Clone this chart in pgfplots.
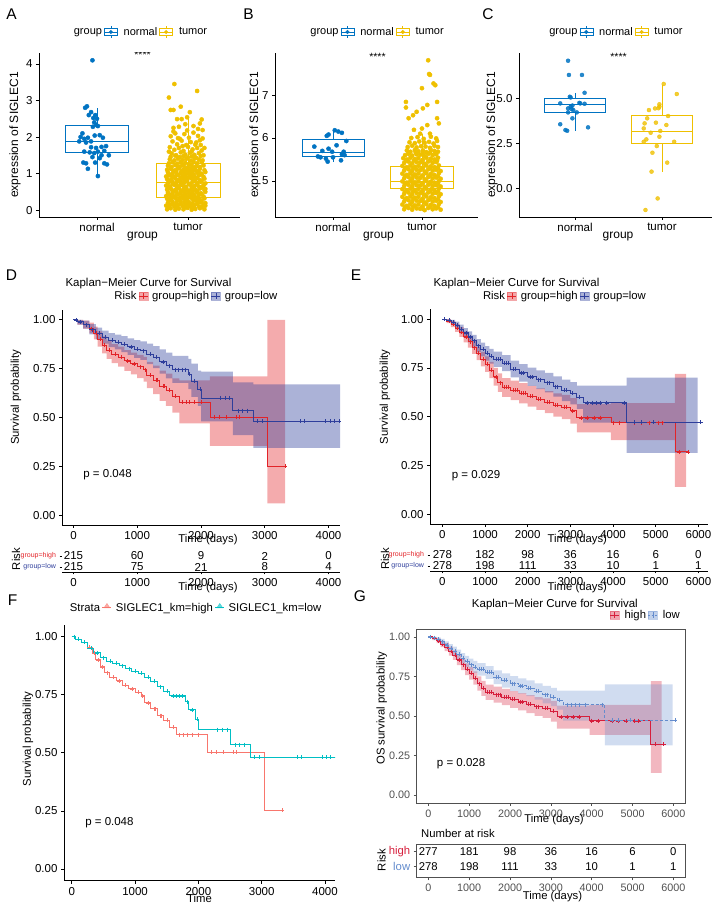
\documentclass[border=0pt]{standalone}
\usepackage{fontspec}
\setmainfont{Liberation Sans}
\usepackage{pgfplots}
\pgfplotsset{compat=1.18}
\usepackage{pgfplotstable}
\usepgfplotslibrary{statistics}
\newcommand\fs[1]{\fontsize{#1}{#1}\selectfont}
\definecolor{jcoblue}{HTML}{0073C2}
\definecolor{jcoyellow}{HTML}{EFC000}
\definecolor{kmred}{RGB}{226,35,40}
\definecolor{kmblue}{RGB}{46,62,155}
\definecolor{fred}{HTML}{F8766D}
\definecolor{fteal}{HTML}{00BFC4}
\definecolor{gred}{RGB}{214,30,60}
\definecolor{gblue}{RGB}{100,140,205}
\definecolor{ggray}{RGB}{80,80,80}
\pgfplotsset{/pgf/number format/assume math mode=true,
 boxglyph/.style={legend image code/.code={%
   \draw[#1, line width=0.6pt, fill=white] (0pt,-3.8pt) rectangle (13pt,3.8pt);
   \draw[#1, line width=0.6pt] (6.5pt,-6pt)--(6.5pt,-3.8pt) (6.5pt,3.8pt)--(6.5pt,6pt);
   \draw[#1, line width=0.7pt] (0pt,0pt)--(13pt,0pt);
   \fill[#1] (6.5pt,0pt) circle (1.8pt);}},
 kmglyph/.style 2 args={legend image code/.code={%
   \fill[#1, opacity=0.4] (0pt,-4pt) rectangle (9pt,4pt);
   \draw[#2, line width=0.8pt] (0pt,0pt)--(9pt,0pt);
   \draw[#2, line width=0.6pt, solid] (4.5pt,-2.6pt)--(4.5pt,2.6pt);}},
 stglyph/.style={legend image code/.code={%
   \draw[#1, line width=0.8pt] (0pt,0pt)--(9pt,0pt);
   \fill[#1, opacity=0.6] (1.5pt,0pt)--(7.5pt,0pt)--(4.5pt,4.5pt)--cycle;}},
 boxax/.style={anchor=south west, scale only axis, axis x line*=bottom, axis y line*=left,
   axis line style={-, black, line width=0.6pt}, tick align=outside, major tick length=3pt,
   tick style={black, line width=0.6pt}, xtick={1,2}, xticklabels={normal,tumor},
   boxplot/draw direction=y,
   xticklabel style={font=\fs{11.5}}, yticklabel style={font=\fs{11.5}},
   ylabel={expression of SIGLEC1}, xlabel={group},
   ylabel style={font=\fs{12}, anchor=center}, xlabel style={font=\fs{12}, anchor=center},
   legend style={anchor=center, draw=none, fill=none, legend columns=-1, font=\fs{11},
     /tikz/every odd column/.append style={column sep=4pt}}, legend cell align=left},
 kmax/.style={anchor=south west, scale only axis, axis x line*=bottom, axis y line*=left,
   axis line style={-, black, line width=0.6pt}, tick align=outside, major tick length=3pt,
   tick style={black, line width=0.6pt}, ymin=-0.05, ymax=1.05, ytick={0,0.25,0.5,0.75,1},
   yticklabel style={font=\fs{11.5}, /pgf/number format/.cd, fixed, fixed zerofill, precision=2},
   xticklabel style={font=\fs{11.5}, /pgf/number format/.cd, fixed, 1000 sep={}},
   scaled x ticks=false, label style={font=\fs{11.3}},
   xlabel style={anchor=center}, ylabel style={anchor=center},
   legend style={anchor=center, draw=none, fill=none, legend columns=-1, font=\fs{11.3},
     /tikz/every odd column/.append style={column sep=2pt}}, legend cell align=left},
 riskax/.style={anchor=south west, scale only axis, axis x line*=bottom, axis y line*=left,
   axis line style={-, black, line width=0.6pt}, y axis line style={draw=none},
   tick align=outside, major tick length=2.5pt, tick style={black, line width=0.6pt},
   ymin=0, ymax=1, ytick={0.227,0.727},
   yticklabels={\textcolor{kmblue}{group=low},\textcolor{kmred}{group=high}},
   yticklabel style={font=\fs{7}},
   xticklabel style={font=\fs{11.5}, /pgf/number format/.cd, fixed, 1000 sep={}},
   scaled x ticks=false, xlabel={Time (days)}, ylabel={Risk}, label style={font=\fs{11.3}},
   xlabel style={anchor=center}, ylabel style={anchor=center}, clip=false},
}
% ---------- survival curves (time, survival) ----------
\pgfplotstableread{
t s
0 1.000
60 0.990
150 0.975
250 0.955
320 0.930
380 0.900
450 0.870
520 0.845
600 0.825
700 0.810
800 0.790
900 0.775
1000 0.760
1100 0.745
1150 0.715
1250 0.690
1350 0.660
1450 0.640
1550 0.610
1660 0.578
2140 0.503
3040 0.252
3320 0.252
}\Dhigh
\pgfplotstableread{
t s
0 1.000
60 0.990
150 0.975
250 0.950
350 0.930
450 0.910
550 0.895
650 0.885
750 0.875
850 0.862
950 0.850
1050 0.842
1150 0.825
1250 0.808
1350 0.785
1450 0.765
1550 0.745
1800 0.720
1850 0.685
1950 0.645
2000 0.600
2500 0.535
2820 0.480
4250 0.480
}\Dlow
% confidence bands: upper limit forward, lower limit backward
\pgfplotstableread{
t v
0 1.000
60 1.000
150 0.995
250 0.985
320 0.965
380 0.940
450 0.915
520 0.893
600 0.875
700 0.862
800 0.845
900 0.832
1000 0.820
1100 0.810
1150 0.785
1250 0.765
1350 0.740
1450 0.725
1550 0.700
1660 0.690
2140 0.710
3040 1.000
3320 1.000
3320 0.060
3040 0.355
2140 0.470
1660 0.525
1550 0.560
1450 0.585
1350 0.620
1250 0.650
1150 0.683
1100 0.702
1000 0.720
900 0.738
800 0.760
700 0.778
600 0.800
520 0.828
450 0.862
380 0.900
320 0.930
250 0.955
150 0.975
60 1.000
}\DhighBand
\pgfplotstableread{
t v
0 1.000
60 1.000
150 0.995
250 0.978
350 0.960
450 0.945
550 0.932
650 0.924
750 0.916
850 0.905
950 0.896
1050 0.890
1150 0.878
1250 0.865
1350 0.848
1450 0.832
1550 0.815
1800 0.800
1850 0.775
1950 0.740
2000 0.735
2500 0.680
2820 0.670
4180 0.670
4180 0.345
2820 0.410
2500 0.480
2000 0.560
1950 0.605
1850 0.645
1800 0.677
1550 0.700
1450 0.725
1350 0.752
1250 0.773
1150 0.795
1050 0.805
950 0.820
850 0.835
750 0.848
650 0.860
550 0.878
450 0.900
350 0.925
250 0.955
150 0.975
60 1.000
}\DlowBand
\pgfplotstableread{
t s
200 0.975
280 0.955
350 0.930
420 0.900
480 0.870
560 0.845
650 0.825
750 0.810
850 0.790
950 0.775
1050 0.760
1120 0.745
1200 0.715
1300 0.690
1320 0.690
1400 0.660
1420 0.660
1500 0.640
1600 0.610
1700 0.578
1760 0.578
1820 0.578
1900 0.578
2000 0.578
2200 0.503
2280 0.503
2400 0.503
2550 0.503
2600 0.503
3320 0.252
}\Dhc
\pgfplotstableread{
t s
40 1.000
100 0.990
200 0.975
300 0.950
400 0.930
500 0.910
600 0.895
700 0.885
800 0.875
900 0.862
1000 0.850
1100 0.842
1200 0.825
1300 0.808
1400 0.785
1500 0.765
1600 0.745
1650 0.745
1700 0.745
1750 0.745
1820 0.720
1900 0.685
1980 0.645
2300 0.600
2380 0.600
2450 0.600
2580 0.535
2650 0.535
2720 0.535
2880 0.480
2960 0.480
3560 0.480
3620 0.480
3950 0.480
4020 0.480
4090 0.480
4160 0.480
}\Dlc
\pgfplotstableread{
t s
0 1.000
100 0.990
200 0.975
300 0.955
400 0.935
500 0.910
600 0.885
700 0.855
800 0.825
900 0.795
1000 0.770
1100 0.740
1200 0.705
1300 0.675
1400 0.650
1600 0.635
1800 0.620
2000 0.605
2200 0.590
2400 0.575
2600 0.560
2800 0.550
3000 0.530
3150 0.495
3950 0.470
5450 0.320
5760 0.320
}\Ehigh
\pgfplotstableread{
t s
0 1.000
100 0.995
200 0.985
300 0.970
400 0.950
500 0.930
600 0.910
700 0.890
800 0.865
900 0.845
1000 0.825
1100 0.810
1200 0.795
1400 0.775
1600 0.745
1800 0.725
2000 0.705
2200 0.690
2400 0.675
2600 0.655
2800 0.635
3000 0.620
3150 0.600
3300 0.572
4320 0.472
6050 0.472
}\Elow
\pgfplotstableread{
t v
0 1.000
100 1.000
200 0.990
300 0.975
400 0.960
500 0.938
600 0.915
700 0.888
800 0.860
900 0.833
1000 0.810
1100 0.782
1200 0.750
1300 0.722
1400 0.698
1600 0.685
1800 0.672
2000 0.658
2200 0.645
2400 0.632
2600 0.620
2800 0.612
3000 0.595
3150 0.565
3950 0.570
5450 0.720
5710 0.720
5710 0.140
5450 0.380
3950 0.420
3150 0.465
3000 0.488
2800 0.500
2600 0.518
2400 0.535
2200 0.552
2000 0.568
1800 0.585
1600 0.602
1400 0.628
1300 0.660
1200 0.698
1100 0.730
1000 0.758
900 0.790
800 0.822
700 0.855
600 0.882
500 0.910
400 0.935
300 0.960
200 0.980
100 1.000
}\EhighBand
\pgfplotstableread{
t v
0 1.000
100 1.000
200 0.997
300 0.988
400 0.972
500 0.955
600 0.938
700 0.920
800 0.898
900 0.880
1000 0.862
1100 0.848
1200 0.834
1400 0.816
1600 0.788
1800 0.770
2000 0.752
2200 0.738
2400 0.725
2600 0.707
2800 0.690
3000 0.677
3150 0.660
3300 0.660
4320 0.700
5980 0.700
5980 0.315
4320 0.470
3300 0.540
3150 0.563
3000 0.580
2800 0.603
2600 0.625
2400 0.642
2200 0.658
2000 0.680
1800 0.702
1600 0.734
1400 0.756
1200 0.772
1100 0.788
1000 0.810
900 0.832
800 0.860
700 0.882
600 0.905
500 0.928
400 0.952
300 0.972
200 0.987
100 1.000
}\ElowBand
\pgfplotstableread{
t s
150 0.990
250 0.975
350 0.955
450 0.935
550 0.910
650 0.885
750 0.855
850 0.825
950 0.795
1050 0.770
1150 0.740
1250 0.705
1350 0.675
1450 0.650
1500 0.650
1550 0.650
1650 0.635
1700 0.635
1750 0.635
1850 0.620
1900 0.620
1950 0.620
2050 0.605
2100 0.605
2250 0.590
2300 0.590
2450 0.575
2500 0.575
2650 0.560
2700 0.560
2850 0.550
2900 0.550
3050 0.530
3250 0.495
3400 0.495
3550 0.495
3700 0.495
4000 0.470
4150 0.470
4500 0.470
4650 0.470
4850 0.470
5050 0.470
5150 0.470
5550 0.320
5760 0.320
}\Ehc
\pgfplotstableread{
t s
50 1.000
150 0.995
250 0.985
350 0.970
450 0.950
550 0.930
650 0.910
750 0.890
850 0.865
950 0.845
1050 0.825
1150 0.810
1250 0.795
1300 0.795
1350 0.795
1450 0.775
1500 0.775
1550 0.775
1650 0.745
1700 0.745
1850 0.725
1900 0.725
2050 0.705
2100 0.705
2250 0.690
2300 0.690
2450 0.675
2500 0.675
2650 0.655
2700 0.655
2850 0.635
2900 0.635
3050 0.620
3200 0.600
3400 0.572
3500 0.572
3600 0.572
3700 0.572
3850 0.572
4250 0.572
4500 0.472
4650 0.472
4950 0.472
6050 0.472
}\Elc
\begin{document}
\begin{tikzpicture}
\useasboundingbox (0,0) rectangle (719pt,910pt);
\node[font=\fs{15.5}] at (11.5pt,896pt) {A};
\node[font=\fs{15.5}] at (248.5pt,896pt) {B};
\node[font=\fs{15.5}] at (488pt,896pt) {C};
\node[font=\fs{15.5}] at (11.5pt,634.5pt) {D};
\node[font=\fs{15.5}] at (356pt,634.5pt) {E};
\node[font=\fs{15.5}] at (12.5pt,309.5pt) {F};
\node[font=\fs{15.5}] at (360pt,314pt) {G};

% ================= A =================
\begin{axis}[boxax, at={(39pt,693pt)}, width=201pt, height=164pt,
  xmin=0.363, xmax=2.571, ymin=-0.19, ymax=4.30, ytick={0,1,2,3,4},
  ylabel style={at={(axis description cs:-0.1194,0.5)}},
  xlabel style={at={(axis description cs:0.515,-0.122)}},
  legend style={at={(axis description cs:0.495,1.128)}}]
\addlegendimage{empty legend}\addlegendentry{group}
\addlegendimage{boxglyph=jcoblue}\addlegendentry{normal}
\addlegendimage{boxglyph=jcoyellow}\addlegendentry{tumor}
\addplot[jcoblue, line width=0.7pt, fill=white, forget plot, boxplot prepared={lower whisker=0.93, lower quartile=1.57, median=1.88, upper quartile=2.33, upper whisker=2.80, draw position=1, box extend=0.7, whisker extend=0}] coordinates {};
\addplot[jcoyellow, line width=0.7pt, fill=white, forget plot, boxplot prepared={lower whisker=0.0, lower quartile=0.36, median=0.75, upper quartile=1.27, upper whisker=2.52, draw position=2, box extend=0.7, whisker extend=0}] coordinates {};
\addplot[only marks, mark=*, mark size=2.1pt, jcoblue, forget plot] coordinates {
(0.95,4.10)(0.87,2.80)(0.89,2.84)(0.935,2.68)(0.98,2.60)(0.91,2.60)(0.96,2.52)(1.00,2.50)(0.97,2.40)(0.99,2.33)(1.01,2.30)(0.955,2.28)(0.84,2.10)(0.82,2.00)(0.86,1.95)(0.90,1.98)(0.935,1.88)(1.03,2.05)(0.975,2.04)(1.065,1.98)(0.805,1.88)(0.88,1.85)(1.10,1.75)(1.05,1.73)(0.99,1.70)(0.86,1.60)(0.92,1.58)(0.97,1.56)(1.01,1.60)(1.08,1.62)(1.13,1.50)(0.95,1.45)(1.03,1.42)(0.85,1.30)(0.88,1.28)(0.98,1.30)(1.08,1.28)(1.11,1.25)(0.90,1.13)(1.01,0.93)(1.05,1.50)(0.935,1.72)};
\addplot[only marks, mark=*, mark size=2.1pt, jcoyellow, forget plot] coordinates {
(1.85,3.45)(2.10,3.26)(1.79,3.08)(1.81,2.74)(1.84,2.74)(1.92,2.83)(2.02,2.68)(1.88,2.49)(1.93,2.49)(1.99,2.54)(2.15,2.48)(2.13,2.37)(1.84,2.25)(2.06,2.30)(2.16,2.19)(2.11,2.22)(1.97,2.35)(1.90,2.28)
(1.81,2.02)(1.86,2.10)(1.91,1.95)(1.96,2.08)(2.01,1.98)(2.06,2.12)(2.11,2.03)(2.16,1.96)(1.83,1.88)(1.88,1.80)(1.93,1.90)(1.98,1.78)(2.03,1.86)(2.08,1.79)(2.13,1.91)(1.80,1.72)(1.85,1.65)(1.90,1.70)(1.95,1.62)(2.00,1.73)(2.05,1.66)(2.10,1.70)(2.15,1.63)(1.82,1.55)(1.87,1.50)(1.92,1.58)(1.97,1.52)(2.02,1.57)(2.07,1.51)(2.12,1.56)(2.17,1.50)(1.84,2.15)(1.99,2.18)(2.09,1.85)(1.94,1.75)(2.04,1.60)(1.89,1.97)(2.14,1.78)(1.79,1.60)(2.18,1.70)
(1.77,0.02)(1.81,0.05)(1.86,0.01)(1.90,0.04)(1.95,0.02)(1.99,0.06)(2.04,0.01)(2.08,0.03)(2.13,0.05)(2.18,0.02)
(1.76,0.12)(1.80,0.15)(1.85,0.10)(1.89,0.14)(1.94,0.11)(1.98,0.16)(2.03,0.09)(2.07,0.13)(2.12,0.10)(2.17,0.15)
(1.78,0.20)(1.83,0.23)(1.87,0.19)(1.92,0.24)(1.96,0.20)(2.01,0.22)(2.05,0.18)(2.10,0.24)(2.14,0.21)(2.19,0.19)
(1.77,0.31)(1.81,0.28)(1.86,0.33)(1.90,0.29)(1.95,0.32)(1.99,0.27)(2.04,0.33)(2.08,0.30)(2.13,0.28)(2.18,0.32)
(1.76,0.38)(1.80,0.41)(1.85,0.37)(1.89,0.42)(1.94,0.39)(1.98,0.36)(2.03,0.42)(2.07,0.38)(2.12,0.41)(2.17,0.37)
(1.78,0.49)(1.83,0.46)(1.87,0.51)(1.92,0.47)(1.96,0.50)(2.01,0.45)(2.05,0.51)(2.10,0.48)(2.14,0.46)(2.19,0.50)
(1.77,0.56)(1.81,0.59)(1.86,0.55)(1.90,0.60)(1.95,0.57)(1.99,0.54)(2.04,0.60)(2.08,0.56)(2.13,0.59)(2.18,0.55)
(1.76,0.67)(1.80,0.64)(1.85,0.69)(1.89,0.65)(1.94,0.68)(1.98,0.63)(2.03,0.69)(2.07,0.66)(2.12,0.64)(2.17,0.68)
(1.78,0.74)(1.83,0.77)(1.87,0.73)(1.92,0.78)(1.96,0.75)(2.01,0.72)(2.05,0.78)(2.10,0.74)(2.14,0.77)(2.19,0.73)
(1.77,0.85)(1.81,0.82)(1.86,0.87)(1.90,0.83)(1.95,0.86)(1.99,0.81)(2.04,0.87)(2.08,0.84)(2.13,0.82)(2.18,0.86)
(1.76,0.92)(1.80,0.95)(1.85,0.91)(1.89,0.96)(1.94,0.93)(1.98,0.90)(2.03,0.96)(2.07,0.92)(2.12,0.95)(2.17,0.91)
(1.78,1.03)(1.83,1.00)(1.87,1.05)(1.92,1.01)(1.96,1.04)(2.01,0.99)(2.05,1.05)(2.10,1.02)(2.14,1.00)(2.19,1.04)
(1.77,1.10)(1.81,1.13)(1.86,1.09)(1.90,1.14)(1.95,1.11)(1.99,1.08)(2.04,1.14)(2.08,1.10)(2.13,1.13)(2.18,1.09)
(1.78,1.21)(1.82,1.18)(1.86,1.23)(1.91,1.19)(1.95,1.22)(2.00,1.17)(2.04,1.23)(2.09,1.20)(2.13,1.18)(2.17,1.22)
(1.79,1.28)(1.83,1.31)(1.88,1.27)(1.92,1.32)(1.97,1.29)(2.01,1.26)(2.06,1.32)(2.10,1.28)(2.15,1.31)
(1.80,1.39)(1.85,1.36)(1.89,1.41)(1.94,1.37)(1.98,1.40)(2.03,1.35)(2.07,1.41)(2.12,1.38)(2.16,1.36)
(1.81,1.46)(1.86,1.49)(1.91,1.45)(1.95,1.48)(2.00,1.44)(2.04,1.47)(2.09,1.43)(2.14,1.48)
(1.79,0.07)(1.88,0.08)(1.97,0.09)(2.06,0.07)(2.15,0.08)(1.83,0.16)(1.92,0.17)(2.01,0.16)(2.10,0.17)(2.19,0.12)
(1.79,0.26)(1.88,0.25)(1.97,0.26)(2.06,0.26)(2.15,0.25)(1.83,0.35)(1.92,0.34)(2.01,0.35)(2.10,0.34)(1.78,0.44)
(1.88,0.43)(1.97,0.44)(2.06,0.43)(2.15,0.44)(1.83,0.53)(1.92,0.52)(2.01,0.53)(2.10,0.52)(2.19,0.58)(1.79,0.62)
(1.88,0.61)(1.97,0.62)(2.06,0.61)(2.15,0.62)(1.83,0.71)(1.92,0.70)(2.01,0.71)(2.10,0.70)(1.79,0.80)(1.88,0.79)
(1.97,0.80)(2.06,0.79)(2.15,0.80)(1.83,0.89)(1.92,0.88)(2.01,0.89)(2.10,0.88)(1.79,0.98)(1.88,0.97)(1.97,0.98)
(2.06,0.97)(2.15,0.98)(1.84,1.07)(1.93,1.06)(2.02,1.07)(2.11,1.06)(1.89,1.16)(1.98,1.15)(2.07,1.16)(1.94,1.25)};
\node[font=\fs{10.5}] at (axis cs:1.5,4.24) {****};
\end{axis}

% ================= B =================
\begin{axis}[boxax, at={(275pt,693pt)}, width=203pt, height=164pt,
  xmin=0.348, xmax=2.63, ymin=4.16, ymax=7.98, ytick={5,6,7},
  ylabel style={at={(axis description cs:-0.0985,0.5)}},
  xlabel style={at={(axis description cs:0.51,-0.122)}},
  legend style={at={(axis description cs:0.493,1.128)}}]
\addlegendimage{empty legend}\addlegendentry{group}
\addlegendimage{boxglyph=jcoblue}\addlegendentry{normal}
\addlegendimage{boxglyph=jcoyellow}\addlegendentry{tumor}
\addplot[jcoblue, line width=0.7pt, fill=white, forget plot, boxplot prepared={lower whisker=5.45, lower quartile=5.57, median=5.66, upper quartile=5.97, upper whisker=6.18, draw position=1, box extend=0.7, whisker extend=0}] coordinates {};
\addplot[jcoyellow, line width=0.7pt, fill=white, forget plot, boxplot prepared={lower whisker=4.30, lower quartile=4.82, median=5.00, upper quartile=5.34, upper whisker=6.10, draw position=2, box extend=0.7, whisker extend=0}] coordinates {};
\addplot[only marks, mark=*, mark size=2.1pt, jcoblue, forget plot] coordinates {
(1.02,6.18)(1.06,6.15)(1.10,6.12)(0.93,6.05)(0.95,6.08)(1.15,5.93)(1.04,5.83)(0.79,5.80)(0.95,5.75)(0.88,5.70)(0.99,5.68)(1.10,5.62)(0.83,5.57)(0.86,5.55)(1.13,5.60)(1.09,5.48)(0.94,5.45)(0.92,5.52)(1.00,5.55)(1.12,5.68)};
\addplot[only marks, mark=*, mark size=2.1pt, jcoyellow, forget plot] coordinates {
(2.07,7.81)(2.08,7.49)(2.09,7.47)(2.13,7.27)(2.15,7.23)(2.00,7.16)(1.82,6.84)(1.82,6.71)(2.17,6.84)(2.06,6.77)(2.01,6.69)(1.94,6.61)(1.90,6.53)(1.85,6.46)(2.17,6.46)(2.19,6.34)(1.91,6.19)(2.00,6.22)(2.06,6.30)(2.09,6.10)(1.98,6.10)
(1.80,4.34)(1.85,4.37)(1.89,4.33)(1.94,4.36)(1.98,4.35)(2.03,4.32)(2.07,4.37)(2.12,4.34)(2.16,4.36)(2.21,4.33)
(1.78,4.45)(1.83,4.42)(1.87,4.46)(1.92,4.43)(1.96,4.45)(2.01,4.41)(2.05,4.46)(2.10,4.44)(2.14,4.42)(2.19,4.46)
(1.80,4.52)(1.85,4.55)(1.89,4.51)(1.94,4.54)(1.98,4.53)(2.03,4.50)(2.07,4.55)(2.12,4.52)(2.16,4.54)(2.21,4.51)
(1.78,4.63)(1.83,4.60)(1.87,4.64)(1.92,4.61)(1.96,4.63)(2.01,4.59)(2.05,4.64)(2.10,4.62)(2.14,4.60)(2.19,4.64)
(1.80,4.70)(1.85,4.73)(1.89,4.69)(1.94,4.72)(1.98,4.71)(2.03,4.68)(2.07,4.73)(2.12,4.70)(2.16,4.72)(2.21,4.69)
(1.78,4.81)(1.83,4.78)(1.87,4.82)(1.92,4.79)(1.96,4.81)(2.01,4.77)(2.05,4.82)(2.10,4.80)(2.14,4.78)(2.19,4.82)
(1.80,4.88)(1.85,4.91)(1.89,4.87)(1.94,4.90)(1.98,4.89)(2.03,4.86)(2.07,4.91)(2.12,4.88)(2.16,4.90)(2.21,4.87)
(1.78,4.99)(1.83,4.96)(1.87,5.00)(1.92,4.97)(1.96,4.99)(2.01,4.95)(2.05,5.00)(2.10,4.98)(2.14,4.96)(2.19,5.00)
(1.80,5.06)(1.85,5.09)(1.89,5.05)(1.94,5.08)(1.98,5.07)(2.03,5.04)(2.07,5.09)(2.12,5.06)(2.16,5.08)(2.21,5.05)
(1.78,5.17)(1.83,5.14)(1.87,5.18)(1.92,5.15)(1.96,5.17)(2.01,5.13)(2.05,5.18)(2.10,5.16)(2.14,5.14)(2.19,5.18)
(1.80,5.24)(1.85,5.27)(1.89,5.23)(1.94,5.26)(1.98,5.25)(2.03,5.22)(2.07,5.27)(2.12,5.24)(2.16,5.26)(2.21,5.23)
(1.78,5.35)(1.83,5.32)(1.87,5.36)(1.92,5.33)(1.96,5.35)(2.01,5.31)(2.05,5.36)(2.10,5.34)(2.14,5.32)(2.19,5.36)
(1.80,5.42)(1.85,5.45)(1.89,5.41)(1.94,5.44)(1.98,5.43)(2.03,5.40)(2.07,5.45)(2.12,5.42)(2.16,5.44)
(1.79,5.53)(1.83,5.50)(1.87,5.54)(1.92,5.51)(1.96,5.53)(2.01,5.49)(2.05,5.54)(2.10,5.52)(2.14,5.50)(2.18,5.54)
(1.81,5.60)(1.85,5.63)(1.89,5.59)(1.94,5.62)(1.98,5.61)(2.03,5.58)(2.07,5.63)(2.12,5.60)(2.16,5.62)
(1.83,5.71)(1.87,5.68)(1.92,5.72)(1.96,5.69)(2.01,5.71)(2.05,5.67)(2.10,5.72)(2.14,5.70)(2.18,5.68)
(1.84,5.79)(1.89,5.82)(1.94,5.78)(1.99,5.81)(2.04,5.80)(2.09,5.77)(2.14,5.82)(2.18,5.79)
(1.86,5.90)(1.92,5.88)(1.97,5.92)(2.03,5.89)(2.08,5.91)(2.13,5.87)(2.17,5.93)
(1.88,6.00)(1.95,6.02)(2.02,5.98)(2.10,6.03)(2.16,5.99)
(1.81,4.39)(1.90,4.40)(2.00,4.39)(2.09,4.40)(2.18,4.39)(1.81,4.57)(1.90,4.58)(2.00,4.57)(2.09,4.58)(2.18,4.57)(1.81,4.75)(1.90,4.76)(2.00,4.75)(2.09,4.76)(2.18,4.75)(1.81,4.93)(1.90,4.94)(2.00,4.93)(2.09,4.94)(2.18,4.93)(1.81,5.11)(1.90,5.12)(2.00,5.11)(2.09,5.12)(2.18,5.11)(1.81,5.29)(1.90,5.30)(2.00,5.29)(2.09,5.30)(2.18,5.29)(1.82,5.47)(1.91,5.48)(2.00,5.47)(2.09,5.48)(2.17,5.47)(1.85,5.65)(1.93,5.66)(2.01,5.65)(2.09,5.66)(2.15,5.65)};
\node[font=\fs{10.5}] at (axis cs:1.5,7.90) {****};
\end{axis}

% ================= C =================
\begin{axis}[boxax, at={(519pt,693pt)}, width=193pt, height=164pt,
  xmin=0.356, xmax=2.575, ymin=-1.59, ymax=7.52, ytick={0,2.5,5},
  yticklabel style={/pgf/number format/.cd, fixed, fixed zerofill, precision=1},
  ylabel style={at={(axis description cs:-0.140,0.5)}},
  xlabel style={at={(axis description cs:0.513,-0.122)}},
  legend style={at={(axis description cs:0.492,1.128)}}]
\addlegendimage{empty legend}\addlegendentry{group}
\addlegendimage{boxglyph=jcoblue}\addlegendentry{normal}
\addlegendimage{boxglyph=jcoyellow}\addlegendentry{tumor}
\addplot[jcoblue, line width=0.7pt, fill=white, forget plot, boxplot prepared={lower whisker=3.18, lower quartile=4.20, median=4.65, upper quartile=5.00, upper whisker=5.31, draw position=1, box extend=0.7, whisker extend=0}] coordinates {};
\addplot[jcoyellow, line width=0.7pt, fill=white, forget plot, boxplot prepared={lower whisker=0.93, lower quartile=2.50, median=3.15, upper quartile=4.05, upper whisker=5.75, draw position=2, box extend=0.7, whisker extend=0}] coordinates {};
\addplot[only marks, mark=*, mark size=2pt, jcoblue, opacity=0.85, forget plot] coordinates {
(0.92,7.09)(0.93,6.30)(1.08,6.30)(1.11,5.31)(0.94,5.09)(0.95,5.05)(0.83,4.72)(1.06,4.72)(1.11,4.70)(0.95,4.54)(0.92,4.44)(0.98,4.35)(0.92,4.22)(1.02,4.22)(0.97,3.89)(0.83,3.56)(1.15,3.39)(0.89,3.24)(0.91,3.20)(0.97,4.60)(1.05,4.75)(0.96,4.40)};
\addplot[only marks, mark=*, mark size=2pt, jcoyellow, opacity=0.8, forget plot] coordinates {
(2.02,5.80)(2.17,5.24)(1.97,4.67)(1.97,4.54)(1.92,4.44)(1.85,4.35)(2.07,4.02)(1.83,3.89)(1.80,3.61)(1.93,3.65)(2.05,3.52)(1.79,3.33)(1.87,3.09)(1.98,3.19)(1.97,2.87)(1.82,2.72)(1.79,2.59)(2.14,2.59)(1.94,2.35)(1.89,1.98)(2.06,1.43)(1.88,0.93)(1.95,-0.56)(1.81,-1.20)(1.96,4.45)};
\node[font=\fs{10.5}] at (axis cs:1.5,7.32) {****};
\end{axis}

% ================= D =================
\begin{axis}[kmax, at={(62pt,385pt)}, width=278pt, height=215pt,
  xmin=-180, xmax=4180, xtick={0,1000,2000,3000,4000},
  ylabel={Survival probability}, xlabel={Time (days)},
  ylabel style={at={(axis description cs:-0.1655,0.593)}},
  xlabel style={at={(axis description cs:0.525,-0.0698)}},
  title={Kaplan\textminus Meier Curve for Survival},
  title style={at={(axis description cs:0,1.093)}, anchor=west, font=\fs{11.5}},
  legend style={at={(axis description cs:0.478,1.065)}}]
\addlegendimage{empty legend}\addlegendentry{Risk}
\addlegendimage{kmglyph={kmred}{kmred}}\addlegendentry{group=high}
\addlegendimage{kmglyph={kmblue}{kmblue}}\addlegendentry{group=low}
\addplot[draw=none, fill=kmred, fill opacity=0.38, const plot, forget plot] table[x=t,y=v]{\DhighBand};
\addplot[draw=none, fill=kmblue, fill opacity=0.4, const plot, forget plot] table[x=t,y=v]{\DlowBand};
\addplot[kmred, line width=0.8pt, const plot, forget plot] table[x=t,y=s]{\Dhigh};
\addplot[kmblue, line width=0.8pt, const plot, forget plot] table[x=t,y=s]{\Dlow};
\addplot[kmred, only marks, mark=+, mark size=2pt, forget plot] table[x=t,y=s]{\Dhc};
\addplot[kmblue, only marks, mark=+, mark size=2pt, forget plot] table[x=t,y=s]{\Dlc};
\node[anchor=west, font=\fs{11.5}] at (axis cs:100,0.205) {p = 0.048};
\end{axis}
\begin{axis}[riskax, at={(62pt,338pt)}, width=278pt, height=22pt,
  xmin=-180, xmax=4180, xtick={0,1000,2000,3000,4000},
  ylabel style={at={(axis description cs:-0.1655,0.59)}},
  xlabel style={at={(axis description cs:0.525,-0.727)}}]
\addplot[draw=none, forget plot] coordinates {(0,0.5)};
\node[font=\fs{11.5}] at (axis cs:0,0.727) {215};
\node[font=\fs{11.5}] at (axis cs:1000,0.727) {60};
\node[font=\fs{11.5}] at (axis cs:2000,0.727) {9};
\node[font=\fs{11.5}] at (axis cs:3000,0.727) {2};
\node[font=\fs{11.5}] at (axis cs:4000,0.727) {0};
\node[font=\fs{11.5}] at (axis cs:0,0.227) {215};
\node[font=\fs{11.5}] at (axis cs:1000,0.227) {75};
\node[font=\fs{11.5}] at (axis cs:2000,0.227) {21};
\node[font=\fs{11.5}] at (axis cs:3000,0.227) {8};
\node[font=\fs{11.5}] at (axis cs:4000,0.227) {4};
\end{axis}

% ================= E =================
\begin{axis}[kmax, at={(430pt,386pt)}, width=278pt, height=214.5pt,
  xmin=-290, xmax=6225, xtick={0,1000,2000,3000,4000,5000,6000},
  ylabel={Survival probability}, xlabel={Time (days)},
  ylabel style={at={(axis description cs:-0.162,0.593)}},
  xlabel style={at={(axis description cs:0.53,-0.0746)}},
  title={Kaplan\textminus Meier Curve for Survival},
  title style={at={(axis description cs:0,1.091)}, anchor=west, font=\fs{11.5}},
  legend style={at={(axis description cs:0.48,1.063)}}]
\addlegendimage{empty legend}\addlegendentry{Risk}
\addlegendimage{kmglyph={kmred}{kmred}}\addlegendentry{group=high}
\addlegendimage{kmglyph={kmblue}{kmblue}}\addlegendentry{group=low}
\addplot[draw=none, fill=kmred, fill opacity=0.38, const plot, forget plot] table[x=t,y=v]{\EhighBand};
\addplot[draw=none, fill=kmblue, fill opacity=0.4, const plot, forget plot] table[x=t,y=v]{\ElowBand};
\addplot[kmred, line width=0.8pt, const plot, forget plot] table[x=t,y=s]{\Ehigh};
\addplot[kmblue, line width=0.8pt, const plot, forget plot] table[x=t,y=s]{\Elow};
\addplot[kmred, only marks, mark=+, mark size=2pt, forget plot] table[x=t,y=s]{\Ehc};
\addplot[kmblue, only marks, mark=+, mark size=2pt, forget plot] table[x=t,y=s]{\Elc};
\node[anchor=west, font=\fs{11.5}] at (axis cs:140,0.20) {p = 0.029};
\end{axis}
\begin{axis}[riskax, at={(430pt,339pt)}, width=278pt, height=22pt,
  xmin=-290, xmax=6225, xtick={0,1000,2000,3000,4000,5000,6000},
  ylabel style={at={(axis description cs:-0.162,0.55)}},
  xlabel style={at={(axis description cs:0.53,-0.773)}}]
\addplot[draw=none, forget plot] coordinates {(0,0.5)};
\node[font=\fs{11.5}] at (axis cs:0,0.727) {278};
\node[font=\fs{11.5}] at (axis cs:1000,0.727) {182};
\node[font=\fs{11.5}] at (axis cs:2000,0.727) {98};
\node[font=\fs{11.5}] at (axis cs:3000,0.727) {36};
\node[font=\fs{11.5}] at (axis cs:4000,0.727) {16};
\node[font=\fs{11.5}] at (axis cs:5000,0.727) {6};
\node[font=\fs{11.5}] at (axis cs:6000,0.727) {0};
\node[font=\fs{11.5}] at (axis cs:0,0.227) {278};
\node[font=\fs{11.5}] at (axis cs:1000,0.227) {198};
\node[font=\fs{11.5}] at (axis cs:2000,0.227) {111};
\node[font=\fs{11.5}] at (axis cs:3000,0.227) {33};
\node[font=\fs{11.5}] at (axis cs:4000,0.227) {10};
\node[font=\fs{11.5}] at (axis cs:5000,0.227) {1};
\node[font=\fs{11.5}] at (axis cs:6000,0.227) {1};
\end{axis}

% ================= F =================
\begin{axis}[kmax, at={(64pt,29.4pt)}, width=271pt, height=255.6pt,
  xmin=-122, xmax=4158, xtick={0,1000,2000,3000,4000},
  ylabel={Survival probability}, xlabel={Time},
  ylabel style={at={(axis description cs:-0.133,0.554)}},
  xlabel style={at={(axis description cs:0.50,-0.0704)}},
  legend style={at={(axis description cs:0.482,1.067)}}]
\addlegendimage{empty legend}\addlegendentry{Strata}
\addlegendimage{stglyph=fred}\addlegendentry{SIGLEC1\_km=high}
\addlegendimage{stglyph=fteal}\addlegendentry{SIGLEC1\_km=low}
\addplot[fred, line width=0.8pt, const plot, forget plot] table[x=t,y=s]{\Dhigh};
\addplot[fteal, line width=0.8pt, const plot, forget plot] table[x=t,y=s]{\Dlow};
\addplot[fred, only marks, mark=+, mark size=2pt, forget plot] table[x=t,y=s]{\Dhc};
\addplot[fteal, only marks, mark=+, mark size=2pt, forget plot] table[x=t,y=s]{\Dlc};
\node[anchor=west, font=\fs{11.5}] at (axis cs:158,0.20) {p = 0.048};
\end{axis}

% ================= G =================
\begin{axis}[anchor=south west, scale only axis, at={(416.7pt,107pt)}, width=268.3pt, height=174pt,
  xmin=-285, xmax=6285, ymin=-0.05, ymax=1.05,
  xtick={0,1000,2000,3000,4000,5000,6000}, ytick={0,0.25,0.5,0.75,1},
  axis line style={ggray, line width=0.6pt}, tick pos=left, tick align=outside,
  major tick length=3pt, tick style={ggray, line width=0.6pt},
  yticklabel style={font=\fs{10.8}, text=ggray, /pgf/number format/.cd, fixed, fixed zerofill, precision=2},
  xticklabel style={font=\fs{10.8}, text=ggray, /pgf/number format/.cd, fixed, 1000 sep={}},
  scaled x ticks=false, label style={font=\fs{11.3}},
  ylabel={OS survival probability}, xlabel={Time (days)},
  ylabel style={anchor=center, at={(axis description cs:-0.1305,0.544)}},
  xlabel style={anchor=center, at={(axis description cs:0.512,-0.0977)}},
  title={Kaplan\textminus Meier Curve for Survival},
  title style={at={(axis description cs:0.515,1.109)}, anchor=center, font=\fs{11.5}},
  legend style={at={(axis description cs:1.0,1.08)}, anchor=east, draw=none, fill=none, legend columns=-1, font=\fs{11.3}, /tikz/every odd column/.append style={column sep=3pt}},
  legend cell align=left]
\addlegendimage{kmglyph={gred}{gred}}\addlegendentry{high}
\addlegendimage{kmglyph={gblue}{gblue, dash pattern=on 2pt off 1.2pt}}\addlegendentry{low}
\addplot[draw=none, fill=gred, fill opacity=0.32, const plot, forget plot] table[x=t,y=v]{\EhighBand};
\addplot[draw=none, fill=gblue, fill opacity=0.3, const plot, forget plot] table[x=t,y=v]{\ElowBand};
\addplot[gred, line width=0.9pt, const plot, forget plot] table[x=t,y=s]{\Ehigh};
\addplot[gblue, line width=0.9pt, const plot, dash pattern=on 3pt off 2pt, forget plot] table[x=t,y=s]{\Elow};
\addplot[gred, only marks, mark=+, mark size=2pt, forget plot] table[x=t,y=s]{\Ehc};
\addplot[gblue, only marks, mark=+, mark size=2pt, forget plot] table[x=t,y=s]{\Elc};
\node[anchor=west, font=\fs{11.5}] at (axis cs:125,0.20) {p = 0.028};
\end{axis}
\begin{axis}[anchor=south west, scale only axis, at={(416.7pt,32.7pt)}, width=268.3pt, height=33pt,
  xmin=-285, xmax=6285, ymin=0, ymax=1, clip=false,
  xtick={0,1000,2000,3000,4000,5000,6000}, ytick={0.32,0.776},
  yticklabels={\textcolor{gblue}{low},\textcolor{gred}{high}},
  axis line style={ggray, line width=0.6pt}, tick pos=left, tick align=outside,
  major tick length=3pt, tick style={ggray, line width=0.6pt},
  yticklabel style={font=\fs{11.3}},
  xticklabel style={font=\fs{10.8}, text=ggray, /pgf/number format/.cd, fixed, 1000 sep={}},
  scaled x ticks=false, label style={font=\fs{11.3}},
  ylabel={Risk}, xlabel={Time (days)},
  ylabel style={anchor=center, at={(axis description cs:-0.1305,0.52)}},
  xlabel style={anchor=center, at={(axis description cs:0.506,-0.588)}},
  title={Number at risk},
  title style={at={(axis description cs:0,1)}, anchor=west, yshift=5.3pt, xshift=1pt, font=\fs{11.3}}]
\addplot[draw=none, forget plot] coordinates {(0,0.5)};
\node[font=\fs{11.3}] at (axis cs:0,0.776) {277};
\node[font=\fs{11.3}] at (axis cs:1000,0.776) {181};
\node[font=\fs{11.3}] at (axis cs:2000,0.776) {98};
\node[font=\fs{11.3}] at (axis cs:3000,0.776) {36};
\node[font=\fs{11.3}] at (axis cs:4000,0.776) {16};
\node[font=\fs{11.3}] at (axis cs:5000,0.776) {6};
\node[font=\fs{11.3}] at (axis cs:6000,0.776) {0};
\node[font=\fs{11.3}] at (axis cs:0,0.32) {278};
\node[font=\fs{11.3}] at (axis cs:1000,0.32) {198};
\node[font=\fs{11.3}] at (axis cs:2000,0.32) {111};
\node[font=\fs{11.3}] at (axis cs:3000,0.32) {33};
\node[font=\fs{11.3}] at (axis cs:4000,0.32) {10};
\node[font=\fs{11.3}] at (axis cs:5000,0.32) {1};
\node[font=\fs{11.3}] at (axis cs:6000,0.32) {1};
\end{axis}
\end{tikzpicture}
\end{document}
